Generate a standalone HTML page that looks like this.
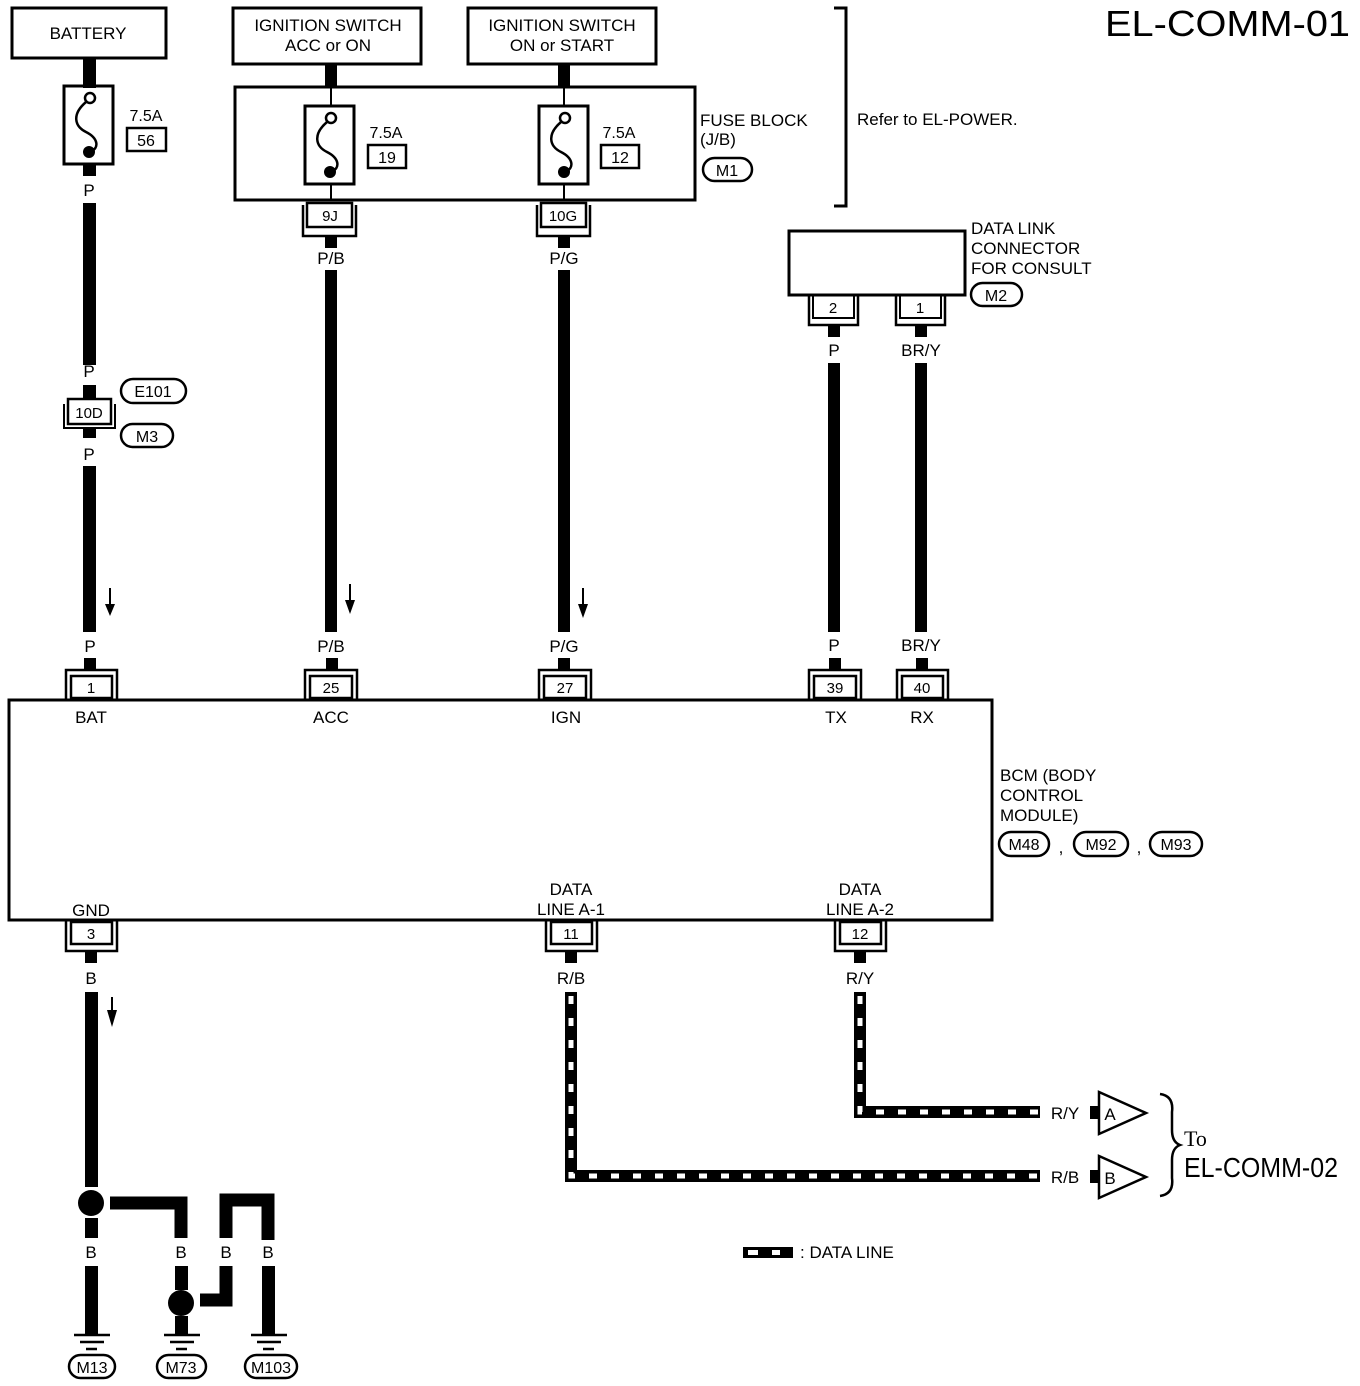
<!DOCTYPE html>
<html><head><meta charset="utf-8"><style>
html,body{margin:0;padding:0;background:#fff;}
svg{display:block;}
text{font-family:"Liberation Sans",sans-serif;fill:#000;}
</style></head><body>
<svg width="1360" height="1386" viewBox="0 0 1360 1386" xmlns="http://www.w3.org/2000/svg">
<defs>
<g id="fuse">
  <rect x="0" y="0" width="49" height="78" fill="none" stroke="#000" stroke-width="3"/>
  <circle cx="26" cy="12" r="5" fill="#fff" stroke="#000" stroke-width="2.5"/>
  <path d="M22 16 C8 28, 10 40, 22 46 C34 52, 36 62, 26 66" fill="none" stroke="#000" stroke-width="2.5"/>
  <circle cx="25" cy="66" r="6" fill="#000"/>
</g>
</defs>
<g font-size="17" text-anchor="middle">
<!-- Title -->
<text x="1105" y="36" font-size="36" text-anchor="start" textLength="245" lengthAdjust="spacingAndGlyphs">EL-COMM-01</text>

<!-- Battery -->
<rect x="12" y="8" width="154" height="50" fill="none" stroke="#000" stroke-width="3"/>
<text x="88" y="39">BATTERY</text>
<rect x="83" y="58" width="13" height="30" fill="#000"/>
<use href="#fuse" x="64" y="86"/>
<rect x="83" y="164" width="13" height="12" fill="#000"/>
<text x="146" y="121" font-size="16">7.5A</text>
<rect x="127" y="128" width="39" height="23" fill="none" stroke="#000" stroke-width="2.5"/>
<text x="146" y="146" font-size="16">56</text>
<text x="89" y="196">P</text>
<rect x="83" y="203" width="13" height="162" fill="#000"/>
<text x="89" y="377">P</text>
<rect x="83" y="385" width="13" height="14" fill="#000"/>
<rect x="68" y="399" width="43" height="25" fill="none" stroke="#000" stroke-width="2.5"/>
<path d="M64 404 V428 H115 V404" fill="none" stroke="#000" stroke-width="2"/>
<text x="89" y="418" font-size="15">10D</text>
<rect x="83" y="428" width="13" height="10" fill="#000"/>
<rect x="121" y="379" width="65" height="24" rx="12" fill="none" stroke="#000" stroke-width="2.5"/>
<text x="153" y="397" font-size="16">E101</text>
<rect x="121" y="424" width="52" height="23" rx="11.5" fill="none" stroke="#000" stroke-width="2.5"/>
<text x="147" y="442" font-size="16">M3</text>
<text x="89" y="460">P</text>
<rect x="83" y="466" width="13" height="166" fill="#000"/>
<path d="M110 588 V608" stroke="#000" stroke-width="2"/><path d="M105 604 L110 616 L115 604 Z" fill="#000"/>
<text x="90" y="652">P</text>
<rect x="84" y="658" width="12" height="12" fill="#000"/>

<!-- Ignition switches -->
<rect x="233" y="8" width="188" height="56" fill="none" stroke="#000" stroke-width="3"/>
<text x="328" y="31">IGNITION SWITCH</text><text x="328" y="51">ACC or ON</text>
<rect x="468" y="8" width="188" height="56" fill="none" stroke="#000" stroke-width="3"/>
<text x="562" y="31">IGNITION SWITCH</text><text x="562" y="51">ON or START</text>
<rect x="325" y="64" width="12" height="23" fill="#000"/>
<rect x="558" y="64" width="12" height="23" fill="#000"/>
<!-- Fuse block -->
<rect x="235" y="87" width="460" height="113" fill="none" stroke="#000" stroke-width="3"/>
<path d="M331 88 V106 M331 184 V200 M564 88 V106 M564 184 V200" stroke="#000" stroke-width="2"/>
<use href="#fuse" x="305" y="106"/>
<use href="#fuse" x="539" y="106"/>
<text x="386" y="138" font-size="16">7.5A</text>
<rect x="368" y="145" width="38" height="23" fill="none" stroke="#000" stroke-width="2.5"/>
<text x="387" y="163" font-size="16">19</text>
<text x="619" y="138" font-size="16">7.5A</text>
<rect x="601" y="145" width="38" height="23" fill="none" stroke="#000" stroke-width="2.5"/>
<text x="620" y="163" font-size="16">12</text>
<g text-anchor="start"><text x="700" y="126">FUSE BLOCK</text><text x="700" y="145">(J/B)</text><text x="857" y="125">Refer to EL-POWER.</text></g>
<rect x="703" y="158" width="49" height="23" rx="11.5" fill="none" stroke="#000" stroke-width="2.5"/>
<text x="727" y="176" font-size="16">M1</text>
<path d="M834 8 H846 V206 H834" fill="none" stroke="#000" stroke-width="3"/>
<!-- 9J / 10G -->
<rect x="307" y="203" width="45" height="24" fill="none" stroke="#000" stroke-width="2.5"/>
<path d="M303 205 V236 H356 V205" fill="none" stroke="#000" stroke-width="2.5"/>
<text x="330" y="221" font-size="15">9J</text>
<rect x="541" y="203" width="45" height="24" fill="none" stroke="#000" stroke-width="2.5"/>
<path d="M537 205 V236 H590 V205" fill="none" stroke="#000" stroke-width="2.5"/>
<text x="563" y="221" font-size="15">10G</text>
<rect x="325" y="236" width="12" height="12" fill="#000"/>
<rect x="558" y="236" width="12" height="12" fill="#000"/>
<text x="331" y="264">P/B</text><text x="564" y="264">P/G</text>
<rect x="325" y="270" width="12" height="362" fill="#000"/>
<rect x="558" y="270" width="12" height="362" fill="#000"/>
<path d="M350 584 V604" stroke="#000" stroke-width="2"/><path d="M345 600 L350 614 L355 600 Z" fill="#000"/>
<path d="M583 588 V608" stroke="#000" stroke-width="2"/><path d="M578 604 L583 618 L588 604 Z" fill="#000"/>
<text x="331" y="652">P/B</text><text x="564" y="652">P/G</text>
<rect x="326" y="658" width="12" height="12" fill="#000"/>
<rect x="558" y="658" width="12" height="12" fill="#000"/>

<!-- DLC -->
<rect x="789" y="231" width="176" height="64" fill="none" stroke="#000" stroke-width="3"/>
<g text-anchor="start"><text x="971" y="234">DATA LINK</text><text x="971" y="254">CONNECTOR</text><text x="971" y="274">FOR CONSULT</text></g>
<rect x="971" y="283" width="51" height="23" rx="11.5" fill="none" stroke="#000" stroke-width="2.5"/>
<text x="996" y="301" font-size="16">M2</text>
<path d="M809 295 V325 H858 V295" fill="none" stroke="#000" stroke-width="2.5"/>
<path d="M813 295 V318 H854 V295" fill="none" stroke="#000" stroke-width="2"/>
<text x="833" y="313" font-size="15">2</text>
<path d="M896 295 V325 H945 V295" fill="none" stroke="#000" stroke-width="2.5"/>
<path d="M900 295 V318 H941 V295" fill="none" stroke="#000" stroke-width="2"/>
<text x="920" y="313" font-size="15">1</text>
<rect x="828" y="325" width="12" height="12" fill="#000"/>
<rect x="915" y="325" width="12" height="12" fill="#000"/>
<text x="834" y="356">P</text><text x="921" y="356">BR/Y</text>
<rect x="828" y="363" width="12" height="269" fill="#000"/>
<rect x="915" y="363" width="12" height="269" fill="#000"/>
<text x="834" y="651">P</text><text x="921" y="651">BR/Y</text>
<rect x="829" y="658" width="12" height="12" fill="#000"/>
<rect x="916" y="658" width="12" height="12" fill="#000"/>

<!-- BCM top connectors -->
<g font-size="15">
<path d="M66 700 V670 H117 V700" fill="none" stroke="#000" stroke-width="2.5"/><rect x="71" y="676" width="41" height="22" fill="none" stroke="#000" stroke-width="2.5"/><text x="91" y="693">1</text>
<path d="M305 700 V670 H357 V700" fill="none" stroke="#000" stroke-width="2.5"/><rect x="310" y="676" width="42" height="22" fill="none" stroke="#000" stroke-width="2.5"/><text x="331" y="693">25</text>
<path d="M539 700 V670 H591 V700" fill="none" stroke="#000" stroke-width="2.5"/><rect x="544" y="676" width="42" height="22" fill="none" stroke="#000" stroke-width="2.5"/><text x="565" y="693">27</text>
<path d="M809 700 V670 H861 V700" fill="none" stroke="#000" stroke-width="2.5"/><rect x="814" y="676" width="42" height="22" fill="none" stroke="#000" stroke-width="2.5"/><text x="835" y="693">39</text>
<path d="M897 700 V670 H948 V700" fill="none" stroke="#000" stroke-width="2.5"/><rect x="902" y="676" width="41" height="22" fill="none" stroke="#000" stroke-width="2.5"/><text x="922" y="693">40</text>
</g>
<!-- BCM box -->
<rect x="9" y="700" width="983" height="220" fill="none" stroke="#000" stroke-width="3"/>
<text x="91" y="723">BAT</text><text x="331" y="723">ACC</text><text x="566" y="723">IGN</text><text x="836" y="723">TX</text><text x="922" y="723">RX</text>
<g text-anchor="start"><text x="1000" y="781">BCM (BODY</text><text x="1000" y="801">CONTROL</text><text x="1000" y="821">MODULE)</text></g>
<rect x="999" y="832" width="50" height="24" rx="12" fill="none" stroke="#000" stroke-width="2.5"/><text x="1024" y="850" font-size="16">M48</text>
<text x="1061" y="853">,</text>
<rect x="1074" y="832" width="54" height="24" rx="12" fill="none" stroke="#000" stroke-width="2.5"/><text x="1101" y="850" font-size="16">M92</text>
<text x="1139" y="853">,</text>
<rect x="1150" y="832" width="52" height="24" rx="12" fill="none" stroke="#000" stroke-width="2.5"/><text x="1176" y="850" font-size="16">M93</text>
<text x="91" y="916">GND</text>
<text x="571" y="895">DATA</text><text x="571" y="915">LINE A-1</text>
<text x="860" y="895">DATA</text><text x="860" y="915">LINE A-2</text>
<!-- bottom connectors -->
<g font-size="15">
<path d="M66 920 V951 H117 V920" fill="none" stroke="#000" stroke-width="2.5"/><rect x="71" y="922" width="41" height="22" fill="none" stroke="#000" stroke-width="2.5"/><text x="91" y="939">3</text>
<path d="M546 920 V951 H597 V920" fill="none" stroke="#000" stroke-width="2.5"/><rect x="551" y="922" width="41" height="22" fill="none" stroke="#000" stroke-width="2.5"/><text x="571" y="939">11</text>
<path d="M835 920 V951 H886 V920" fill="none" stroke="#000" stroke-width="2.5"/><rect x="840" y="922" width="41" height="22" fill="none" stroke="#000" stroke-width="2.5"/><text x="860" y="939">12</text>
</g>
<rect x="85" y="951" width="12" height="12" fill="#000"/>
<rect x="565" y="951" width="12" height="12" fill="#000"/>
<rect x="854" y="951" width="12" height="12" fill="#000"/>
<text x="91" y="984">B</text><text x="571" y="984">R/B</text><text x="860" y="984">R/Y</text>

<!-- Ground -->
<rect x="85" y="992" width="13" height="195" fill="#000"/>
<path d="M112 997 L112 1015" stroke="#000" stroke-width="2"/><path d="M107 1010 L112 1027 L117 1010 Z" fill="#000"/>
<circle cx="91" cy="1203" r="13" fill="#000"/>
<rect x="85" y="1218" width="13" height="20" fill="#000"/>
<path d="M110 1203 H181 V1238" fill="none" stroke="#000" stroke-width="13"/>
<path d="M226 1238 V1200 H268 V1240" fill="none" stroke="#000" stroke-width="13"/>
<text x="91" y="1258">B</text><text x="181" y="1258">B</text><text x="226" y="1258">B</text><text x="268" y="1258">B</text>
<rect x="85" y="1266" width="13" height="68" fill="#000"/>
<rect x="175" y="1266" width="13" height="24" fill="#000"/>
<circle cx="181" cy="1303" r="13" fill="#000"/>
<rect x="175" y="1316" width="13" height="18" fill="#000"/>
<path d="M200 1300 H226 V1266" fill="none" stroke="#000" stroke-width="13"/>
<rect x="262" y="1266" width="13" height="68" fill="#000"/>
<g stroke="#000" stroke-width="2.5">
<path d="M74 1335 H110 M80 1342 H104 M86 1349 H97"/>
<path d="M164 1335 H200 M170 1342 H194 M176 1349 H187"/>
<path d="M251 1335 H287 M257 1342 H281 M263 1349 H274"/>
</g>
<rect x="69" y="1355" width="46" height="23" rx="11.5" fill="none" stroke="#000" stroke-width="2.5"/><text x="92" y="1373" font-size="16">M13</text>
<rect x="157" y="1355" width="49" height="23" rx="11.5" fill="none" stroke="#000" stroke-width="2.5"/><text x="181" y="1373" font-size="16">M73</text>
<rect x="245" y="1355" width="52" height="23" rx="11.5" fill="none" stroke="#000" stroke-width="2.5"/><text x="271" y="1373" font-size="16">M103</text>

<!-- Data lines -->
<path d="M571 992 V1176 H1040" fill="none" stroke="#000" stroke-width="12"/>
<path d="M571 996 V1176 H1040" fill="none" stroke="#fff" stroke-width="5" stroke-dasharray="8 14"/>
<path d="M860 992 V1112 H1040" fill="none" stroke="#000" stroke-width="12"/>
<path d="M860 996 V1112 H1040" fill="none" stroke="#fff" stroke-width="5" stroke-dasharray="8 14"/>
<text x="1065" y="1119">R/Y</text><text x="1065" y="1183">R/B</text>
<rect x="1090" y="1106" width="10" height="13" fill="#000"/>
<rect x="1090" y="1170" width="10" height="13" fill="#000"/>
<path d="M1099 1092 L1146 1113 L1099 1134 Z" fill="#fff" stroke="#000" stroke-width="2.5"/>
<path d="M1099 1156 L1146 1177 L1099 1198 Z" fill="#fff" stroke="#000" stroke-width="2.5"/>
<text x="1110" y="1120">A</text><text x="1110" y="1184">B</text>
<path d="M1160 1094 Q1174 1096 1172 1112 L1172 1130 Q1172 1142 1180 1145 Q1172 1148 1172 1160 L1172 1178 Q1174 1194 1160 1196" fill="none" stroke="#000" stroke-width="2.5"/>
<text x="1184" y="1146" font-size="22" text-anchor="start" style="font-family:'Liberation Serif',serif">To</text>
<text x="1184" y="1177" font-size="28" text-anchor="start" textLength="154" lengthAdjust="spacingAndGlyphs">EL-COMM-02</text>
<!-- legend -->
<rect x="743" y="1247" width="50" height="11" fill="#000"/>
<rect x="748" y="1250" width="10" height="5" fill="#fff"/>
<rect x="772" y="1250" width="8" height="5" fill="#fff"/>
<text x="800" y="1258" text-anchor="start">: DATA LINE</text>
</g>
</svg>
</body></html>
